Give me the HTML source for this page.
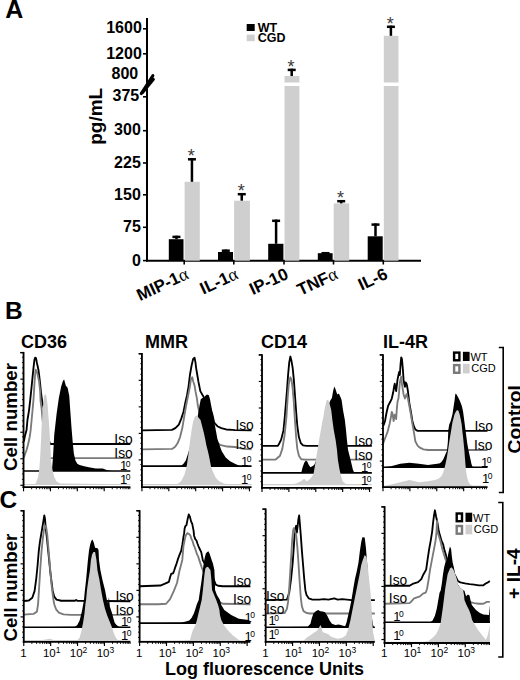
<!DOCTYPE html>
<html><head><meta charset="utf-8"><style>
html,body{margin:0;padding:0;background:#fff;width:520px;height:680px;overflow:hidden}
svg{display:block}
</style></head><body>
<svg width="520" height="680" viewBox="0 0 520 680">
<rect width="520" height="680" fill="#fff"/>
<text x="5.2" y="18.3" font-size="25" font-weight="bold" font-family="Liberation Sans, sans-serif">A</text>
<line x1="147" y1="18" x2="147" y2="261.5" stroke="#000" stroke-width="2"/>
<line x1="146" y1="260.7" x2="421" y2="260.7" stroke="#000" stroke-width="2"/>
<line x1="143" y1="28.8" x2="147" y2="28.8" stroke="#000" stroke-width="1.6"/>
<line x1="143" y1="53.8" x2="147" y2="53.8" stroke="#000" stroke-width="1.6"/>
<line x1="143" y1="96.8" x2="147" y2="96.8" stroke="#000" stroke-width="1.6"/>
<line x1="143" y1="130.7" x2="147" y2="130.7" stroke="#000" stroke-width="1.6"/>
<line x1="143" y1="163" x2="147" y2="163" stroke="#000" stroke-width="1.6"/>
<line x1="143" y1="194.8" x2="147" y2="194.8" stroke="#000" stroke-width="1.6"/>
<line x1="143" y1="227.3" x2="147" y2="227.3" stroke="#000" stroke-width="1.6"/>
<line x1="143" y1="260.6" x2="147" y2="260.6" stroke="#000" stroke-width="1.6"/>
<text x="141.8" y="32.8" font-size="16" font-weight="bold" text-anchor="end" font-family="Liberation Sans, sans-serif">1600</text>
<text x="141.8" y="58.6" font-size="16" font-weight="bold" text-anchor="end" font-family="Liberation Sans, sans-serif">1200</text>
<text x="138.2" y="78.9" font-size="16" font-weight="bold" text-anchor="end" font-family="Liberation Sans, sans-serif">800</text>
<text x="139.2" y="100.8" font-size="16" font-weight="bold" text-anchor="end" font-family="Liberation Sans, sans-serif">375</text>
<text x="140.8" y="135" font-size="16" font-weight="bold" text-anchor="end" font-family="Liberation Sans, sans-serif">300</text>
<text x="140.8" y="167.8" font-size="16" font-weight="bold" text-anchor="end" font-family="Liberation Sans, sans-serif">225</text>
<text x="140.8" y="199.5" font-size="16" font-weight="bold" text-anchor="end" font-family="Liberation Sans, sans-serif">150</text>
<text x="140.8" y="232.2" font-size="16" font-weight="bold" text-anchor="end" font-family="Liberation Sans, sans-serif">75</text>
<text x="140.8" y="266" font-size="16" font-weight="bold" text-anchor="end" font-family="Liberation Sans, sans-serif">0</text>
<path d="M141.2,93.6 L152.9,75.6 M142.6,92.6 L153.4,79.4" stroke="#000" stroke-width="3" stroke-linecap="round" fill="none"/>
<text transform="translate(102.3,144.8) rotate(-90)" font-size="19" font-weight="bold" font-family="Liberation Sans, sans-serif">pg/mL</text>
<rect x="246.7" y="24" width="8" height="7" fill="#000"/>
<rect x="246.7" y="34.6" width="8" height="6.6" fill="#cfcfcf"/>
<text x="257.8" y="31.5" font-size="12.5" font-weight="bold" font-family="Liberation Sans, sans-serif">WT</text>
<text x="257.8" y="42.2" font-size="12.5" font-weight="bold" font-family="Liberation Sans, sans-serif">CGD</text>
<rect x="168.8" y="239.2" width="14.699999999999983" height="21.5" fill="#000"/>
<line x1="176.45" y1="239.2" x2="176.45" y2="235.7" stroke="#000" stroke-width="2.5"/>
<line x1="172.45" y1="236.89999999999998" x2="180.45" y2="236.89999999999998" stroke="#000" stroke-width="2.5"/>
<rect x="218" y="252" width="14.999999999999995" height="8.699999999999989" fill="#000"/>
<line x1="225.8" y1="252" x2="225.8" y2="249.5" stroke="#000" stroke-width="2.5"/>
<line x1="221.8" y1="250.7" x2="229.8" y2="250.7" stroke="#000" stroke-width="2.5"/>
<rect x="268.2" y="243.8" width="15.200000000000012" height="16.899999999999977" fill="#000"/>
<line x1="276.1" y1="243.8" x2="276.1" y2="219.6" stroke="#000" stroke-width="2.5"/>
<line x1="272.1" y1="220.79999999999998" x2="280.1" y2="220.79999999999998" stroke="#000" stroke-width="2.5"/>
<rect x="317.8" y="253.2" width="14.799999999999978" height="7.5" fill="#000"/>
<line x1="325.5" y1="253.2" x2="325.5" y2="252" stroke="#000" stroke-width="2.5"/>
<line x1="321.5" y1="253.2" x2="329.5" y2="253.2" stroke="#000" stroke-width="2.5"/>
<rect x="367.7" y="236.3" width="15.000000000000023" height="24.399999999999977" fill="#000"/>
<line x1="375.5" y1="236.3" x2="375.5" y2="223.4" stroke="#000" stroke-width="2.5"/>
<line x1="371.5" y1="224.6" x2="379.5" y2="224.6" stroke="#000" stroke-width="2.5"/>
<rect x="184.6" y="181.8" width="15.200000000000017" height="78.89999999999998" fill="#cfcfcf"/>
<line x1="191.95" y1="181.8" x2="191.95" y2="158.1" stroke="#000" stroke-width="2.5"/>
<line x1="187.95" y1="159.29999999999998" x2="195.95" y2="159.29999999999998" stroke="#000" stroke-width="2.5"/>
<text x="191.35" y="162.4" font-size="18" text-anchor="middle" fill="#3a3a3a" font-family="Liberation Sans, sans-serif">*</text>
<rect x="234.1" y="200.7" width="15.800000000000011" height="60.0" fill="#cfcfcf"/>
<line x1="241.75" y1="200.7" x2="241.75" y2="193" stroke="#000" stroke-width="2.5"/>
<line x1="237.75" y1="194.2" x2="245.75" y2="194.2" stroke="#000" stroke-width="2.5"/>
<text x="241.15" y="197.3" font-size="18" text-anchor="middle" fill="#3a3a3a" font-family="Liberation Sans, sans-serif">*</text>
<rect x="284.5" y="76" width="14.899999999999977" height="184.7" fill="#cfcfcf"/>
<line x1="291.7" y1="76" x2="291.7" y2="68.7" stroke="#000" stroke-width="2.5"/>
<line x1="287.7" y1="69.9" x2="295.7" y2="69.9" stroke="#000" stroke-width="2.5"/>
<text x="291.09999999999997" y="73.0" font-size="18" text-anchor="middle" fill="#3a3a3a" font-family="Liberation Sans, sans-serif">*</text>
<rect x="333.7" y="203.4" width="15.5" height="57.29999999999998" fill="#cfcfcf"/>
<line x1="341.2" y1="203.4" x2="341.2" y2="200" stroke="#000" stroke-width="2.5"/>
<line x1="337.2" y1="201.2" x2="345.2" y2="201.2" stroke="#000" stroke-width="2.5"/>
<text x="340.59999999999997" y="204.3" font-size="18" text-anchor="middle" fill="#3a3a3a" font-family="Liberation Sans, sans-serif">*</text>
<rect x="383.8" y="35.8" width="14.699999999999989" height="224.89999999999998" fill="#cfcfcf"/>
<line x1="390.9" y1="35.8" x2="390.9" y2="25.6" stroke="#000" stroke-width="2.5"/>
<line x1="386.9" y1="26.8" x2="394.9" y2="26.8" stroke="#000" stroke-width="2.5"/>
<text x="390.29999999999995" y="29.900000000000002" font-size="18" text-anchor="middle" fill="#3a3a3a" font-family="Liberation Sans, sans-serif">*</text>
<rect x="280" y="82.5" width="122" height="3.5" fill="#fff"/>
<line x1="184.2" y1="260" x2="184.2" y2="264.5" stroke="#000" stroke-width="1.6"/>
<line x1="233.8" y1="260" x2="233.8" y2="264.5" stroke="#000" stroke-width="1.6"/>
<line x1="284" y1="260" x2="284" y2="264.5" stroke="#000" stroke-width="1.6"/>
<line x1="333.5" y1="260" x2="333.5" y2="264.5" stroke="#000" stroke-width="1.6"/>
<line x1="383.3" y1="260" x2="383.3" y2="264.5" stroke="#000" stroke-width="1.6"/>
<text transform="translate(189.7,278) rotate(-25)" font-size="17" font-weight="bold" text-anchor="end" font-family="Liberation Sans, sans-serif">MIP-1<tspan font-weight="normal" font-size="18" font-family="Liberation Serif, serif">α</tspan></text>
<text transform="translate(239.3,278) rotate(-25)" font-size="17" font-weight="bold" text-anchor="end" font-family="Liberation Sans, sans-serif">IL-1<tspan font-weight="normal" font-size="18" font-family="Liberation Serif, serif">α</tspan></text>
<text transform="translate(289.5,278) rotate(-25)" font-size="17" font-weight="bold" text-anchor="end" font-family="Liberation Sans, sans-serif">IP-10</text>
<text transform="translate(339.0,278) rotate(-25)" font-size="17" font-weight="bold" text-anchor="end" font-family="Liberation Sans, sans-serif">TNF<tspan font-weight="normal" font-size="18" font-family="Liberation Serif, serif">α</tspan></text>
<text transform="translate(388.8,278) rotate(-25)" font-size="17" font-weight="bold" text-anchor="end" font-family="Liberation Sans, sans-serif">IL-6</text>
<g transform="translate(15,345) scale(0.230769)">
<polyline points="37,416 39,416 43,394 50,368 54,325 61,282 66,238 71,190 76,140 80,100 84,65 87,55 91,57 95,78 98,91 102,110 105,134 109,169 113,209 118,245 122,263 126,280 134,330 143,400 152,429 500,429" fill="none" stroke="#000" stroke-width="8" stroke-linejoin="round"/>
<polyline points="37,487 39,485 43,474 50,455 56,433 61,412 65,390 68,368 72,325 76,282 80,238 84,173 87,130 89,107 93,110 97,124 104,156 109,200 111,245 115,272 120,330 130,420 140,480 150,490 500,490" fill="none" stroke="#7a7a7a" stroke-width="8" stroke-linejoin="round"/>
<polygon points="37,546 37,546 160,546 165,480 170,390 180,300 190,230 200,180 208,155 213,150 220,175 228,185 235,220 240,290 245,360 250,420 255,470 262,500 270,515 280,520 300,525 320,530 350,535 380,535 400,543 420,546 500,546 500,546" fill="#000"/>
<line x1="37" y1="546" x2="500" y2="546" stroke="#000" stroke-width="7"/>
<polygon points="37,604.5 37,604 80,604 90,600 100,572 105,540 108,503 112,430 115,362 119,300 122,257 126,222 131,211 136,222 141,257 145,310 149,362 153,430 156,503 162,540 170,572 180,592 195,600 300,601 400,602 500,603 500,604.5" fill="#cecece"/>
<line x1="37" y1="604.5" x2="500" y2="604.5" stroke="#cecece" stroke-width="5"/>
<line x1="37" y1="30" x2="37" y2="620" stroke="#000" stroke-width="8"/>
<line x1="23" y1="33" x2="37" y2="33" stroke="#000" stroke-width="6"/>
<line x1="33" y1="616" x2="500" y2="616" stroke="#000" stroke-width="8"/>
<line x1="23" y1="33" x2="37" y2="33" stroke="#000" stroke-width="5"/>
<line x1="30" y1="53.0" x2="37" y2="53.0" stroke="#000" stroke-width="4"/>
<line x1="30" y1="76.0" x2="37" y2="76.0" stroke="#000" stroke-width="4"/>
<line x1="30" y1="99.0" x2="37" y2="99.0" stroke="#000" stroke-width="4"/>
<line x1="30" y1="122.0" x2="37" y2="122.0" stroke="#000" stroke-width="4"/>
<line x1="23" y1="148" x2="37" y2="148" stroke="#000" stroke-width="5"/>
<line x1="30" y1="168.0" x2="37" y2="168.0" stroke="#000" stroke-width="4"/>
<line x1="30" y1="191.0" x2="37" y2="191.0" stroke="#000" stroke-width="4"/>
<line x1="30" y1="214.0" x2="37" y2="214.0" stroke="#000" stroke-width="4"/>
<line x1="30" y1="237.0" x2="37" y2="237.0" stroke="#000" stroke-width="4"/>
<line x1="23" y1="263" x2="37" y2="263" stroke="#000" stroke-width="5"/>
<line x1="30" y1="283.0" x2="37" y2="283.0" stroke="#000" stroke-width="4"/>
<line x1="30" y1="306.0" x2="37" y2="306.0" stroke="#000" stroke-width="4"/>
<line x1="30" y1="329.0" x2="37" y2="329.0" stroke="#000" stroke-width="4"/>
<line x1="30" y1="352.0" x2="37" y2="352.0" stroke="#000" stroke-width="4"/>
<line x1="23" y1="378" x2="37" y2="378" stroke="#000" stroke-width="5"/>
<line x1="30" y1="398.0" x2="37" y2="398.0" stroke="#000" stroke-width="4"/>
<line x1="30" y1="421.0" x2="37" y2="421.0" stroke="#000" stroke-width="4"/>
<line x1="30" y1="444.0" x2="37" y2="444.0" stroke="#000" stroke-width="4"/>
<line x1="30" y1="467.0" x2="37" y2="467.0" stroke="#000" stroke-width="4"/>
<line x1="23" y1="493" x2="37" y2="493" stroke="#000" stroke-width="5"/>
<line x1="30" y1="513.0" x2="37" y2="513.0" stroke="#000" stroke-width="4"/>
<line x1="30" y1="536.0" x2="37" y2="536.0" stroke="#000" stroke-width="4"/>
<line x1="30" y1="559.0" x2="37" y2="559.0" stroke="#000" stroke-width="4"/>
<line x1="30" y1="582.0" x2="37" y2="582.0" stroke="#000" stroke-width="4"/>
<line x1="23" y1="608" x2="37" y2="608" stroke="#000" stroke-width="5"/>
<line x1="37.0" y1="616" x2="37.0" y2="634" stroke="#000" stroke-width="5"/>
<line x1="72.0699944948538" y1="616" x2="72.0699944948538" y2="625" stroke="#000" stroke-width="4"/>
<line x1="92.58462617484068" y1="616" x2="92.58462617484068" y2="625" stroke="#000" stroke-width="4"/>
<line x1="107.13998898970762" y1="616" x2="107.13998898970762" y2="625" stroke="#000" stroke-width="4"/>
<line x1="118.4300055051462" y1="616" x2="118.4300055051462" y2="625" stroke="#000" stroke-width="4"/>
<line x1="127.65462066969448" y1="616" x2="127.65462066969448" y2="625" stroke="#000" stroke-width="4"/>
<line x1="135.4539216616609" y1="616" x2="135.4539216616609" y2="625" stroke="#000" stroke-width="4"/>
<line x1="142.2099834845614" y1="616" x2="142.2099834845614" y2="625" stroke="#000" stroke-width="4"/>
<line x1="148.16925234968136" y1="616" x2="148.16925234968136" y2="625" stroke="#000" stroke-width="4"/>
<line x1="153.5" y1="616" x2="153.5" y2="634" stroke="#000" stroke-width="5"/>
<line x1="188.5699944948538" y1="616" x2="188.5699944948538" y2="625" stroke="#000" stroke-width="4"/>
<line x1="209.08462617484068" y1="616" x2="209.08462617484068" y2="625" stroke="#000" stroke-width="4"/>
<line x1="223.63998898970763" y1="616" x2="223.63998898970763" y2="625" stroke="#000" stroke-width="4"/>
<line x1="234.9300055051462" y1="616" x2="234.9300055051462" y2="625" stroke="#000" stroke-width="4"/>
<line x1="244.15462066969448" y1="616" x2="244.15462066969448" y2="625" stroke="#000" stroke-width="4"/>
<line x1="251.95392166166093" y1="616" x2="251.95392166166093" y2="625" stroke="#000" stroke-width="4"/>
<line x1="258.70998348456146" y1="616" x2="258.70998348456146" y2="625" stroke="#000" stroke-width="4"/>
<line x1="264.6692523496813" y1="616" x2="264.6692523496813" y2="625" stroke="#000" stroke-width="4"/>
<line x1="270.0" y1="616" x2="270.0" y2="634" stroke="#000" stroke-width="5"/>
<line x1="305.0699944948538" y1="616" x2="305.0699944948538" y2="625" stroke="#000" stroke-width="4"/>
<line x1="325.5846261748407" y1="616" x2="325.5846261748407" y2="625" stroke="#000" stroke-width="4"/>
<line x1="340.1399889897076" y1="616" x2="340.1399889897076" y2="625" stroke="#000" stroke-width="4"/>
<line x1="351.4300055051462" y1="616" x2="351.4300055051462" y2="625" stroke="#000" stroke-width="4"/>
<line x1="360.6546206696945" y1="616" x2="360.6546206696945" y2="625" stroke="#000" stroke-width="4"/>
<line x1="368.45392166166096" y1="616" x2="368.45392166166096" y2="625" stroke="#000" stroke-width="4"/>
<line x1="375.20998348456146" y1="616" x2="375.20998348456146" y2="625" stroke="#000" stroke-width="4"/>
<line x1="381.16925234968136" y1="616" x2="381.16925234968136" y2="625" stroke="#000" stroke-width="4"/>
<line x1="386.5" y1="616" x2="386.5" y2="634" stroke="#000" stroke-width="5"/>
<line x1="421.5699944948538" y1="616" x2="421.5699944948538" y2="625" stroke="#000" stroke-width="4"/>
<line x1="442.0846261748407" y1="616" x2="442.0846261748407" y2="625" stroke="#000" stroke-width="4"/>
<line x1="456.6399889897076" y1="616" x2="456.6399889897076" y2="625" stroke="#000" stroke-width="4"/>
<line x1="467.9300055051462" y1="616" x2="467.9300055051462" y2="625" stroke="#000" stroke-width="4"/>
<line x1="477.1546206696945" y1="616" x2="477.1546206696945" y2="625" stroke="#000" stroke-width="4"/>
<line x1="484.95392166166096" y1="616" x2="484.95392166166096" y2="625" stroke="#000" stroke-width="4"/>
<line x1="491.70998348456146" y1="616" x2="491.70998348456146" y2="625" stroke="#000" stroke-width="4"/>
<line x1="497.66925234968136" y1="616" x2="497.66925234968136" y2="625" stroke="#000" stroke-width="4"/>
</g>
<text x="114.3" y="444.1" font-size="13.8" font-family="Liberation Sans, sans-serif">Iso</text>
<text x="114.3" y="458.2" font-size="13.8" font-family="Liberation Sans, sans-serif">Iso</text>
<text x="120" y="470.3" font-size="13" font-family="Liberation Sans, sans-serif">1<tspan font-size="8.5" dx="-1.4" dy="-3.6">0</tspan></text>
<text x="120" y="483.8" font-size="13" font-family="Liberation Sans, sans-serif">1<tspan font-size="8.5" dx="-1.4" dy="-3.6">0</tspan></text>
<g transform="translate(135,345) scale(0.230769)">
<polyline points="30,370 160,368 175,360 190,345 200,320 210,290 218,250 225,220 232,180 238,130 245,90 252,60 258,55 262,75 265,100 270,130 275,160 280,185 283,200 300,230 320,260 335,300 343,336 347,341 357,352 374,360 395,366 422,368 433,369 505,370" fill="none" stroke="#000" stroke-width="8" stroke-linejoin="round"/>
<polyline points="30,452 160,450 165,448 175,440 185,425 195,400 205,360 215,300 222,260 230,220 238,180 242,150 248,140 253,160 258,175 262,200 268,230 272,260 278,290 300,340 330,380 355,420 368,433 400,440 433,442 470,450 505,452" fill="none" stroke="#7a7a7a" stroke-width="8" stroke-linejoin="round"/>
<polygon points="30,525 30,525 200,523 210,515 220,500 230,470 250,400 270,320 280,260 285,235 292,230 300,228 305,220 312,215 320,218 325,235 330,262 334,282 338,305 341,325 347,352 352,379 357,406 366,433 376,460 393,487 412,504 433,515 455,524 470,525 505,525 505,525" fill="#000"/>
<line x1="30" y1="525" x2="505" y2="525" stroke="#000" stroke-width="7"/>
<polygon points="30,605 30,605 180,605 200,590 215,560 225,520 232,470 238,420 245,370 252,330 260,310 268,305 276,315 284,325 291,352 298,379 304,406 309,433 316,460 322,487 330,530 340,555 350,575 365,590 385,600 400,603 505,605 505,605" fill="#cecece"/>
<line x1="30" y1="605" x2="505" y2="605" stroke="#cecece" stroke-width="5"/>
<line x1="30" y1="35" x2="30" y2="620" stroke="#000" stroke-width="8"/>
<line x1="16" y1="38" x2="30" y2="38" stroke="#000" stroke-width="6"/>
<line x1="26" y1="616" x2="505" y2="616" stroke="#000" stroke-width="8"/>
<line x1="16" y1="38" x2="30" y2="38" stroke="#000" stroke-width="5"/>
<line x1="23" y1="58.0" x2="30" y2="58.0" stroke="#000" stroke-width="4"/>
<line x1="23" y1="81.0" x2="30" y2="81.0" stroke="#000" stroke-width="4"/>
<line x1="23" y1="104.0" x2="30" y2="104.0" stroke="#000" stroke-width="4"/>
<line x1="23" y1="127.0" x2="30" y2="127.0" stroke="#000" stroke-width="4"/>
<line x1="16" y1="153" x2="30" y2="153" stroke="#000" stroke-width="5"/>
<line x1="23" y1="173.0" x2="30" y2="173.0" stroke="#000" stroke-width="4"/>
<line x1="23" y1="196.0" x2="30" y2="196.0" stroke="#000" stroke-width="4"/>
<line x1="23" y1="219.0" x2="30" y2="219.0" stroke="#000" stroke-width="4"/>
<line x1="23" y1="242.0" x2="30" y2="242.0" stroke="#000" stroke-width="4"/>
<line x1="16" y1="268" x2="30" y2="268" stroke="#000" stroke-width="5"/>
<line x1="23" y1="288.0" x2="30" y2="288.0" stroke="#000" stroke-width="4"/>
<line x1="23" y1="311.0" x2="30" y2="311.0" stroke="#000" stroke-width="4"/>
<line x1="23" y1="334.0" x2="30" y2="334.0" stroke="#000" stroke-width="4"/>
<line x1="23" y1="357.0" x2="30" y2="357.0" stroke="#000" stroke-width="4"/>
<line x1="16" y1="383" x2="30" y2="383" stroke="#000" stroke-width="5"/>
<line x1="23" y1="403.0" x2="30" y2="403.0" stroke="#000" stroke-width="4"/>
<line x1="23" y1="426.0" x2="30" y2="426.0" stroke="#000" stroke-width="4"/>
<line x1="23" y1="449.0" x2="30" y2="449.0" stroke="#000" stroke-width="4"/>
<line x1="23" y1="472.0" x2="30" y2="472.0" stroke="#000" stroke-width="4"/>
<line x1="16" y1="498" x2="30" y2="498" stroke="#000" stroke-width="5"/>
<line x1="23" y1="518.0" x2="30" y2="518.0" stroke="#000" stroke-width="4"/>
<line x1="23" y1="541.0" x2="30" y2="541.0" stroke="#000" stroke-width="4"/>
<line x1="23" y1="564.0" x2="30" y2="564.0" stroke="#000" stroke-width="4"/>
<line x1="23" y1="587.0" x2="30" y2="587.0" stroke="#000" stroke-width="4"/>
<line x1="30.0" y1="616" x2="30.0" y2="634" stroke="#000" stroke-width="5"/>
<line x1="65.0699944948538" y1="616" x2="65.0699944948538" y2="625" stroke="#000" stroke-width="4"/>
<line x1="85.58462617484068" y1="616" x2="85.58462617484068" y2="625" stroke="#000" stroke-width="4"/>
<line x1="100.13998898970762" y1="616" x2="100.13998898970762" y2="625" stroke="#000" stroke-width="4"/>
<line x1="111.4300055051462" y1="616" x2="111.4300055051462" y2="625" stroke="#000" stroke-width="4"/>
<line x1="120.65462066969448" y1="616" x2="120.65462066969448" y2="625" stroke="#000" stroke-width="4"/>
<line x1="128.4539216616609" y1="616" x2="128.4539216616609" y2="625" stroke="#000" stroke-width="4"/>
<line x1="135.2099834845614" y1="616" x2="135.2099834845614" y2="625" stroke="#000" stroke-width="4"/>
<line x1="141.16925234968136" y1="616" x2="141.16925234968136" y2="625" stroke="#000" stroke-width="4"/>
<line x1="146.5" y1="616" x2="146.5" y2="634" stroke="#000" stroke-width="5"/>
<line x1="181.5699944948538" y1="616" x2="181.5699944948538" y2="625" stroke="#000" stroke-width="4"/>
<line x1="202.08462617484068" y1="616" x2="202.08462617484068" y2="625" stroke="#000" stroke-width="4"/>
<line x1="216.63998898970763" y1="616" x2="216.63998898970763" y2="625" stroke="#000" stroke-width="4"/>
<line x1="227.9300055051462" y1="616" x2="227.9300055051462" y2="625" stroke="#000" stroke-width="4"/>
<line x1="237.15462066969448" y1="616" x2="237.15462066969448" y2="625" stroke="#000" stroke-width="4"/>
<line x1="244.95392166166093" y1="616" x2="244.95392166166093" y2="625" stroke="#000" stroke-width="4"/>
<line x1="251.70998348456143" y1="616" x2="251.70998348456143" y2="625" stroke="#000" stroke-width="4"/>
<line x1="257.6692523496813" y1="616" x2="257.6692523496813" y2="625" stroke="#000" stroke-width="4"/>
<line x1="263.0" y1="616" x2="263.0" y2="634" stroke="#000" stroke-width="5"/>
<line x1="298.0699944948538" y1="616" x2="298.0699944948538" y2="625" stroke="#000" stroke-width="4"/>
<line x1="318.5846261748407" y1="616" x2="318.5846261748407" y2="625" stroke="#000" stroke-width="4"/>
<line x1="333.1399889897076" y1="616" x2="333.1399889897076" y2="625" stroke="#000" stroke-width="4"/>
<line x1="344.4300055051462" y1="616" x2="344.4300055051462" y2="625" stroke="#000" stroke-width="4"/>
<line x1="353.6546206696945" y1="616" x2="353.6546206696945" y2="625" stroke="#000" stroke-width="4"/>
<line x1="361.45392166166096" y1="616" x2="361.45392166166096" y2="625" stroke="#000" stroke-width="4"/>
<line x1="368.20998348456146" y1="616" x2="368.20998348456146" y2="625" stroke="#000" stroke-width="4"/>
<line x1="374.16925234968136" y1="616" x2="374.16925234968136" y2="625" stroke="#000" stroke-width="4"/>
<line x1="379.5" y1="616" x2="379.5" y2="634" stroke="#000" stroke-width="5"/>
<line x1="414.5699944948538" y1="616" x2="414.5699944948538" y2="625" stroke="#000" stroke-width="4"/>
<line x1="435.0846261748407" y1="616" x2="435.0846261748407" y2="625" stroke="#000" stroke-width="4"/>
<line x1="449.6399889897076" y1="616" x2="449.6399889897076" y2="625" stroke="#000" stroke-width="4"/>
<line x1="460.9300055051462" y1="616" x2="460.9300055051462" y2="625" stroke="#000" stroke-width="4"/>
<line x1="470.1546206696945" y1="616" x2="470.1546206696945" y2="625" stroke="#000" stroke-width="4"/>
<line x1="477.95392166166096" y1="616" x2="477.95392166166096" y2="625" stroke="#000" stroke-width="4"/>
<line x1="484.70998348456146" y1="616" x2="484.70998348456146" y2="625" stroke="#000" stroke-width="4"/>
<line x1="490.66925234968136" y1="616" x2="490.66925234968136" y2="625" stroke="#000" stroke-width="4"/>
<line x1="496.0" y1="616" x2="496.0" y2="634" stroke="#000" stroke-width="5"/>
</g>
<text x="235.4" y="430.4" font-size="13.8" font-family="Liberation Sans, sans-serif">Iso</text>
<text x="235.4" y="449.3" font-size="13.8" font-family="Liberation Sans, sans-serif">Iso</text>
<text x="241" y="465.8" font-size="13" font-family="Liberation Sans, sans-serif">1<tspan font-size="8.5" dx="-1.4" dy="-3.6">0</tspan></text>
<text x="241" y="483.5" font-size="13" font-family="Liberation Sans, sans-serif">1<tspan font-size="8.5" dx="-1.4" dy="-3.6">0</tspan></text>
<g transform="translate(250,345) scale(0.230769)">
<polyline points="52,437 120,437 125,430 135,410 145,370 150,320 155,260 160,200 165,130 170,75 175,50 180,70 185,100 190,150 195,220 200,290 205,350 212,400 220,425 230,435 245,437 528,437" fill="none" stroke="#000" stroke-width="8" stroke-linejoin="round"/>
<polyline points="52,497 110,497 115,493 130,480 140,450 150,390 158,310 163,230 168,170 175,140 180,150 185,190 190,250 195,330 200,400 205,450 212,480 222,495 240,497 528,497" fill="none" stroke="#7a7a7a" stroke-width="8" stroke-linejoin="round"/>
<polygon points="52,554 52,554 222,554 228,530 235,510 242,500 248,505 255,520 262,530 270,525 278,520 300,470 320,400 340,260 348,240 355,230 360,200 365,180 370,190 378,215 385,210 392,225 397,238 403,282 411,325 416,368 420,412 425,455 436,498 446,541 452,554 528,554 528,554" fill="#000"/>
<line x1="52" y1="554" x2="528" y2="554" stroke="#000" stroke-width="7"/>
<polygon points="52,605 52,605 160,605 180,603 200,600 220,590 235,580 245,590 255,585 265,575 275,560 282,520 290,470 298,420 305,380 312,340 318,310 325,270 332,240 338,236 344,250 349,270 352,282 357,325 363,368 371,412 377,455 381,498 388,540 395,570 402,590 412,600 425,604 528,605 528,605" fill="#cecece"/>
<line x1="52" y1="605" x2="528" y2="605" stroke="#cecece" stroke-width="5"/>
<line x1="52" y1="40" x2="52" y2="623" stroke="#000" stroke-width="8"/>
<line x1="38" y1="43" x2="52" y2="43" stroke="#000" stroke-width="6"/>
<line x1="48" y1="619" x2="528" y2="619" stroke="#000" stroke-width="8"/>
<line x1="38" y1="43" x2="52" y2="43" stroke="#000" stroke-width="5"/>
<line x1="45" y1="63.0" x2="52" y2="63.0" stroke="#000" stroke-width="4"/>
<line x1="45" y1="86.0" x2="52" y2="86.0" stroke="#000" stroke-width="4"/>
<line x1="45" y1="109.0" x2="52" y2="109.0" stroke="#000" stroke-width="4"/>
<line x1="45" y1="132.0" x2="52" y2="132.0" stroke="#000" stroke-width="4"/>
<line x1="38" y1="158" x2="52" y2="158" stroke="#000" stroke-width="5"/>
<line x1="45" y1="178.0" x2="52" y2="178.0" stroke="#000" stroke-width="4"/>
<line x1="45" y1="201.0" x2="52" y2="201.0" stroke="#000" stroke-width="4"/>
<line x1="45" y1="224.0" x2="52" y2="224.0" stroke="#000" stroke-width="4"/>
<line x1="45" y1="247.0" x2="52" y2="247.0" stroke="#000" stroke-width="4"/>
<line x1="38" y1="273" x2="52" y2="273" stroke="#000" stroke-width="5"/>
<line x1="45" y1="293.0" x2="52" y2="293.0" stroke="#000" stroke-width="4"/>
<line x1="45" y1="316.0" x2="52" y2="316.0" stroke="#000" stroke-width="4"/>
<line x1="45" y1="339.0" x2="52" y2="339.0" stroke="#000" stroke-width="4"/>
<line x1="45" y1="362.0" x2="52" y2="362.0" stroke="#000" stroke-width="4"/>
<line x1="38" y1="388" x2="52" y2="388" stroke="#000" stroke-width="5"/>
<line x1="45" y1="408.0" x2="52" y2="408.0" stroke="#000" stroke-width="4"/>
<line x1="45" y1="431.0" x2="52" y2="431.0" stroke="#000" stroke-width="4"/>
<line x1="45" y1="454.0" x2="52" y2="454.0" stroke="#000" stroke-width="4"/>
<line x1="45" y1="477.0" x2="52" y2="477.0" stroke="#000" stroke-width="4"/>
<line x1="38" y1="503" x2="52" y2="503" stroke="#000" stroke-width="5"/>
<line x1="45" y1="523.0" x2="52" y2="523.0" stroke="#000" stroke-width="4"/>
<line x1="45" y1="546.0" x2="52" y2="546.0" stroke="#000" stroke-width="4"/>
<line x1="45" y1="569.0" x2="52" y2="569.0" stroke="#000" stroke-width="4"/>
<line x1="45" y1="592.0" x2="52" y2="592.0" stroke="#000" stroke-width="4"/>
<line x1="52.0" y1="619" x2="52.0" y2="637" stroke="#000" stroke-width="5"/>
<line x1="87.0699944948538" y1="619" x2="87.0699944948538" y2="628" stroke="#000" stroke-width="4"/>
<line x1="107.58462617484068" y1="619" x2="107.58462617484068" y2="628" stroke="#000" stroke-width="4"/>
<line x1="122.13998898970762" y1="619" x2="122.13998898970762" y2="628" stroke="#000" stroke-width="4"/>
<line x1="133.4300055051462" y1="619" x2="133.4300055051462" y2="628" stroke="#000" stroke-width="4"/>
<line x1="142.65462066969448" y1="619" x2="142.65462066969448" y2="628" stroke="#000" stroke-width="4"/>
<line x1="150.4539216616609" y1="619" x2="150.4539216616609" y2="628" stroke="#000" stroke-width="4"/>
<line x1="157.2099834845614" y1="619" x2="157.2099834845614" y2="628" stroke="#000" stroke-width="4"/>
<line x1="163.16925234968136" y1="619" x2="163.16925234968136" y2="628" stroke="#000" stroke-width="4"/>
<line x1="168.5" y1="619" x2="168.5" y2="637" stroke="#000" stroke-width="5"/>
<line x1="203.5699944948538" y1="619" x2="203.5699944948538" y2="628" stroke="#000" stroke-width="4"/>
<line x1="224.08462617484068" y1="619" x2="224.08462617484068" y2="628" stroke="#000" stroke-width="4"/>
<line x1="238.63998898970763" y1="619" x2="238.63998898970763" y2="628" stroke="#000" stroke-width="4"/>
<line x1="249.9300055051462" y1="619" x2="249.9300055051462" y2="628" stroke="#000" stroke-width="4"/>
<line x1="259.1546206696945" y1="619" x2="259.1546206696945" y2="628" stroke="#000" stroke-width="4"/>
<line x1="266.95392166166096" y1="619" x2="266.95392166166096" y2="628" stroke="#000" stroke-width="4"/>
<line x1="273.70998348456146" y1="619" x2="273.70998348456146" y2="628" stroke="#000" stroke-width="4"/>
<line x1="279.6692523496813" y1="619" x2="279.6692523496813" y2="628" stroke="#000" stroke-width="4"/>
<line x1="285.0" y1="619" x2="285.0" y2="637" stroke="#000" stroke-width="5"/>
<line x1="320.0699944948538" y1="619" x2="320.0699944948538" y2="628" stroke="#000" stroke-width="4"/>
<line x1="340.5846261748407" y1="619" x2="340.5846261748407" y2="628" stroke="#000" stroke-width="4"/>
<line x1="355.1399889897076" y1="619" x2="355.1399889897076" y2="628" stroke="#000" stroke-width="4"/>
<line x1="366.4300055051462" y1="619" x2="366.4300055051462" y2="628" stroke="#000" stroke-width="4"/>
<line x1="375.6546206696945" y1="619" x2="375.6546206696945" y2="628" stroke="#000" stroke-width="4"/>
<line x1="383.45392166166096" y1="619" x2="383.45392166166096" y2="628" stroke="#000" stroke-width="4"/>
<line x1="390.20998348456146" y1="619" x2="390.20998348456146" y2="628" stroke="#000" stroke-width="4"/>
<line x1="396.16925234968136" y1="619" x2="396.16925234968136" y2="628" stroke="#000" stroke-width="4"/>
<line x1="401.5" y1="619" x2="401.5" y2="637" stroke="#000" stroke-width="5"/>
<line x1="436.5699944948538" y1="619" x2="436.5699944948538" y2="628" stroke="#000" stroke-width="4"/>
<line x1="457.0846261748407" y1="619" x2="457.0846261748407" y2="628" stroke="#000" stroke-width="4"/>
<line x1="471.6399889897076" y1="619" x2="471.6399889897076" y2="628" stroke="#000" stroke-width="4"/>
<line x1="482.9300055051462" y1="619" x2="482.9300055051462" y2="628" stroke="#000" stroke-width="4"/>
<line x1="492.1546206696945" y1="619" x2="492.1546206696945" y2="628" stroke="#000" stroke-width="4"/>
<line x1="499.95392166166096" y1="619" x2="499.95392166166096" y2="628" stroke="#000" stroke-width="4"/>
<line x1="506.70998348456146" y1="619" x2="506.70998348456146" y2="628" stroke="#000" stroke-width="4"/>
<line x1="512.6692523496813" y1="619" x2="512.6692523496813" y2="628" stroke="#000" stroke-width="4"/>
<line x1="518.0" y1="619" x2="518.0" y2="637" stroke="#000" stroke-width="5"/>
</g>
<text x="354.3" y="445.9" font-size="13.8" font-family="Liberation Sans, sans-serif">Iso</text>
<text x="354.3" y="460" font-size="13.8" font-family="Liberation Sans, sans-serif">Iso</text>
<text x="361" y="472" font-size="13" font-family="Liberation Sans, sans-serif">1<tspan font-size="8.5" dx="-1.4" dy="-3.6">0</tspan></text>
<text x="361" y="485.3" font-size="13" font-family="Liberation Sans, sans-serif">1<tspan font-size="8.5" dx="-1.4" dy="-3.6">0</tspan></text>
<g transform="translate(368,345) scale(0.230769)">
<polyline points="65,347 68,347 74,328 81,290 87,264 97,245 103,232 109,206 113,181 116,168 119,187 122,200 125,175 128,149 132,130 135,117 138,130 141,85 144,54 147,60 151,104 154,149 157,168 160,181 163,162 167,168 170,181 173,200 176,226 179,251 186,290 192,328 199,353 205,366 215,372 518,372" fill="none" stroke="#000" stroke-width="8" stroke-linejoin="round"/>
<polyline points="65,429 74,404 84,379 94,340 100,309 103,290 106,296 111,330 116,302 122,321 125,276 128,245 132,232 135,200 138,162 141,149 144,137 147,168 154,213 160,232 167,213 173,232 179,264 186,302 192,340 199,379 205,417 215,436 225,445 240,452 260,455 518,455" fill="none" stroke="#7a7a7a" stroke-width="8" stroke-linejoin="round"/>
<polygon points="65,530 65,530 100,525 140,515 180,510 220,515 260,520 300,515 312,512 320,505 327,494 336,472 342,459 346,420 348,368 352,345 358,330 366,300 372,260 375,242 378,214 381,210 390,225 398,242 407,265 412,288 415,311 418,334 421,357 424,380 427,403 430,426 434,449 439,472 444,495 448,515 452,527 460,530 518,530 518,530" fill="#000"/>
<line x1="65" y1="530" x2="518" y2="530" stroke="#000" stroke-width="7"/>
<polygon points="65,612 65,612 100,605 140,595 180,585 220,595 260,590 290,585 305,580 315,572 323,560 330,540 336,515 342,485 347,455 352,420 357,390 362,360 366,335 370,320 375,300 381,288 386,282 392,285 397,300 402,322 406,345 409,375 412,400 415,430 418,460 420,490 423,525 426,555 430,575 436,595 443,605 452,610 518,611 518,612" fill="#cecece"/>
<line x1="65" y1="612" x2="518" y2="612" stroke="#cecece" stroke-width="5"/>
<line x1="65" y1="40" x2="65" y2="620" stroke="#000" stroke-width="8"/>
<line x1="51" y1="43" x2="65" y2="43" stroke="#000" stroke-width="6"/>
<line x1="61" y1="616" x2="518" y2="616" stroke="#000" stroke-width="8"/>
<line x1="51" y1="43" x2="65" y2="43" stroke="#000" stroke-width="5"/>
<line x1="58" y1="63.0" x2="65" y2="63.0" stroke="#000" stroke-width="4"/>
<line x1="58" y1="86.0" x2="65" y2="86.0" stroke="#000" stroke-width="4"/>
<line x1="58" y1="109.0" x2="65" y2="109.0" stroke="#000" stroke-width="4"/>
<line x1="58" y1="132.0" x2="65" y2="132.0" stroke="#000" stroke-width="4"/>
<line x1="51" y1="158" x2="65" y2="158" stroke="#000" stroke-width="5"/>
<line x1="58" y1="178.0" x2="65" y2="178.0" stroke="#000" stroke-width="4"/>
<line x1="58" y1="201.0" x2="65" y2="201.0" stroke="#000" stroke-width="4"/>
<line x1="58" y1="224.0" x2="65" y2="224.0" stroke="#000" stroke-width="4"/>
<line x1="58" y1="247.0" x2="65" y2="247.0" stroke="#000" stroke-width="4"/>
<line x1="51" y1="273" x2="65" y2="273" stroke="#000" stroke-width="5"/>
<line x1="58" y1="293.0" x2="65" y2="293.0" stroke="#000" stroke-width="4"/>
<line x1="58" y1="316.0" x2="65" y2="316.0" stroke="#000" stroke-width="4"/>
<line x1="58" y1="339.0" x2="65" y2="339.0" stroke="#000" stroke-width="4"/>
<line x1="58" y1="362.0" x2="65" y2="362.0" stroke="#000" stroke-width="4"/>
<line x1="51" y1="388" x2="65" y2="388" stroke="#000" stroke-width="5"/>
<line x1="58" y1="408.0" x2="65" y2="408.0" stroke="#000" stroke-width="4"/>
<line x1="58" y1="431.0" x2="65" y2="431.0" stroke="#000" stroke-width="4"/>
<line x1="58" y1="454.0" x2="65" y2="454.0" stroke="#000" stroke-width="4"/>
<line x1="58" y1="477.0" x2="65" y2="477.0" stroke="#000" stroke-width="4"/>
<line x1="51" y1="503" x2="65" y2="503" stroke="#000" stroke-width="5"/>
<line x1="58" y1="523.0" x2="65" y2="523.0" stroke="#000" stroke-width="4"/>
<line x1="58" y1="546.0" x2="65" y2="546.0" stroke="#000" stroke-width="4"/>
<line x1="58" y1="569.0" x2="65" y2="569.0" stroke="#000" stroke-width="4"/>
<line x1="58" y1="592.0" x2="65" y2="592.0" stroke="#000" stroke-width="4"/>
<line x1="65.0" y1="616" x2="65.0" y2="634" stroke="#000" stroke-width="5"/>
<line x1="100.0699944948538" y1="616" x2="100.0699944948538" y2="625" stroke="#000" stroke-width="4"/>
<line x1="120.58462617484068" y1="616" x2="120.58462617484068" y2="625" stroke="#000" stroke-width="4"/>
<line x1="135.1399889897076" y1="616" x2="135.1399889897076" y2="625" stroke="#000" stroke-width="4"/>
<line x1="146.4300055051462" y1="616" x2="146.4300055051462" y2="625" stroke="#000" stroke-width="4"/>
<line x1="155.65462066969448" y1="616" x2="155.65462066969448" y2="625" stroke="#000" stroke-width="4"/>
<line x1="163.4539216616609" y1="616" x2="163.4539216616609" y2="625" stroke="#000" stroke-width="4"/>
<line x1="170.2099834845614" y1="616" x2="170.2099834845614" y2="625" stroke="#000" stroke-width="4"/>
<line x1="176.16925234968136" y1="616" x2="176.16925234968136" y2="625" stroke="#000" stroke-width="4"/>
<line x1="181.5" y1="616" x2="181.5" y2="634" stroke="#000" stroke-width="5"/>
<line x1="216.5699944948538" y1="616" x2="216.5699944948538" y2="625" stroke="#000" stroke-width="4"/>
<line x1="237.08462617484068" y1="616" x2="237.08462617484068" y2="625" stroke="#000" stroke-width="4"/>
<line x1="251.63998898970763" y1="616" x2="251.63998898970763" y2="625" stroke="#000" stroke-width="4"/>
<line x1="262.9300055051462" y1="616" x2="262.9300055051462" y2="625" stroke="#000" stroke-width="4"/>
<line x1="272.1546206696945" y1="616" x2="272.1546206696945" y2="625" stroke="#000" stroke-width="4"/>
<line x1="279.95392166166096" y1="616" x2="279.95392166166096" y2="625" stroke="#000" stroke-width="4"/>
<line x1="286.70998348456146" y1="616" x2="286.70998348456146" y2="625" stroke="#000" stroke-width="4"/>
<line x1="292.6692523496813" y1="616" x2="292.6692523496813" y2="625" stroke="#000" stroke-width="4"/>
<line x1="298.0" y1="616" x2="298.0" y2="634" stroke="#000" stroke-width="5"/>
<line x1="333.0699944948538" y1="616" x2="333.0699944948538" y2="625" stroke="#000" stroke-width="4"/>
<line x1="353.5846261748407" y1="616" x2="353.5846261748407" y2="625" stroke="#000" stroke-width="4"/>
<line x1="368.1399889897076" y1="616" x2="368.1399889897076" y2="625" stroke="#000" stroke-width="4"/>
<line x1="379.4300055051462" y1="616" x2="379.4300055051462" y2="625" stroke="#000" stroke-width="4"/>
<line x1="388.6546206696945" y1="616" x2="388.6546206696945" y2="625" stroke="#000" stroke-width="4"/>
<line x1="396.45392166166096" y1="616" x2="396.45392166166096" y2="625" stroke="#000" stroke-width="4"/>
<line x1="403.20998348456146" y1="616" x2="403.20998348456146" y2="625" stroke="#000" stroke-width="4"/>
<line x1="409.16925234968136" y1="616" x2="409.16925234968136" y2="625" stroke="#000" stroke-width="4"/>
<line x1="414.5" y1="616" x2="414.5" y2="634" stroke="#000" stroke-width="5"/>
<line x1="449.5699944948538" y1="616" x2="449.5699944948538" y2="625" stroke="#000" stroke-width="4"/>
<line x1="470.0846261748407" y1="616" x2="470.0846261748407" y2="625" stroke="#000" stroke-width="4"/>
<line x1="484.6399889897076" y1="616" x2="484.6399889897076" y2="625" stroke="#000" stroke-width="4"/>
<line x1="495.9300055051462" y1="616" x2="495.9300055051462" y2="625" stroke="#000" stroke-width="4"/>
<line x1="505.1546206696945" y1="616" x2="505.1546206696945" y2="625" stroke="#000" stroke-width="4"/>
<line x1="512.953921661661" y1="616" x2="512.953921661661" y2="625" stroke="#000" stroke-width="4"/>
</g>
<text x="474.5" y="431.25" font-size="13.8" font-family="Liberation Sans, sans-serif">Iso</text>
<text x="474" y="450" font-size="13.8" font-family="Liberation Sans, sans-serif">Iso</text>
<text x="481" y="467" font-size="13" font-family="Liberation Sans, sans-serif">1<tspan font-size="8.5" dx="-1.4" dy="-3.6">0</tspan></text>
<text x="482" y="483" font-size="13" font-family="Liberation Sans, sans-serif">1<tspan font-size="8.5" dx="-1.4" dy="-3.6">0</tspan></text>
<g transform="translate(15,505) scale(0.230769)">
<polyline points="38,416 60,414 75,402 85,372 92,320 98,260 103,200 108,160 113,130 118,100 123,70 127,45 130,60 133,100 138,140 143,190 148,240 153,290 158,330 163,370 170,397 180,410 200,415 260,415 265,411 270,415 500,417" fill="none" stroke="#000" stroke-width="8" stroke-linejoin="round"/>
<polyline points="38,475 80,472 95,462 100,430 105,350 110,270 115,200 120,150 125,110 130,90 135,95 140,130 145,190 150,250 155,310 160,360 165,400 170,430 178,452 190,466 210,474 240,476 500,476" fill="none" stroke="#7a7a7a" stroke-width="8" stroke-linejoin="round"/>
<polygon points="38,530 38,530 260,528 270,520 280,500 290,460 299,411 303,368 308,325 312,282 316,238 321,195 326,170 331,155 336,150 342,165 347,185 352,186 358,187 362,195 364,238 370,282 379,325 390,368 398,411 403,425 407,400 411,440 416,455 421,470 426,490 432,510 440,520 450,528 500,530 500,530" fill="#000"/>
<line x1="38" y1="530" x2="500" y2="530" stroke="#000" stroke-width="7"/>
<polygon points="38,588 38,588 120,585 150,580 180,588 268,588 280,575 288,545 295,510 301,470 305,430 308,412 312,368 318,325 325,282 329,238 334,215 340,204 347,204 353,238 357,282 366,325 373,368 381,412 390,450 400,480 410,505 420,530 430,560 440,580 450,588 500,588 500,588" fill="#cecece"/>
<line x1="38" y1="588" x2="500" y2="588" stroke="#cecece" stroke-width="5"/>
<line x1="38" y1="22" x2="38" y2="597" stroke="#000" stroke-width="8"/>
<line x1="24" y1="25" x2="38" y2="25" stroke="#000" stroke-width="6"/>
<line x1="34" y1="593" x2="500" y2="593" stroke="#000" stroke-width="8"/>
<line x1="24" y1="25" x2="38" y2="25" stroke="#000" stroke-width="5"/>
<line x1="31" y1="45.0" x2="38" y2="45.0" stroke="#000" stroke-width="4"/>
<line x1="31" y1="68.0" x2="38" y2="68.0" stroke="#000" stroke-width="4"/>
<line x1="31" y1="91.0" x2="38" y2="91.0" stroke="#000" stroke-width="4"/>
<line x1="31" y1="114.0" x2="38" y2="114.0" stroke="#000" stroke-width="4"/>
<line x1="24" y1="140" x2="38" y2="140" stroke="#000" stroke-width="5"/>
<line x1="31" y1="160.0" x2="38" y2="160.0" stroke="#000" stroke-width="4"/>
<line x1="31" y1="183.0" x2="38" y2="183.0" stroke="#000" stroke-width="4"/>
<line x1="31" y1="206.0" x2="38" y2="206.0" stroke="#000" stroke-width="4"/>
<line x1="31" y1="229.0" x2="38" y2="229.0" stroke="#000" stroke-width="4"/>
<line x1="24" y1="255" x2="38" y2="255" stroke="#000" stroke-width="5"/>
<line x1="31" y1="275.0" x2="38" y2="275.0" stroke="#000" stroke-width="4"/>
<line x1="31" y1="298.0" x2="38" y2="298.0" stroke="#000" stroke-width="4"/>
<line x1="31" y1="321.0" x2="38" y2="321.0" stroke="#000" stroke-width="4"/>
<line x1="31" y1="344.0" x2="38" y2="344.0" stroke="#000" stroke-width="4"/>
<line x1="24" y1="370" x2="38" y2="370" stroke="#000" stroke-width="5"/>
<line x1="31" y1="390.0" x2="38" y2="390.0" stroke="#000" stroke-width="4"/>
<line x1="31" y1="413.0" x2="38" y2="413.0" stroke="#000" stroke-width="4"/>
<line x1="31" y1="436.0" x2="38" y2="436.0" stroke="#000" stroke-width="4"/>
<line x1="31" y1="459.0" x2="38" y2="459.0" stroke="#000" stroke-width="4"/>
<line x1="24" y1="485" x2="38" y2="485" stroke="#000" stroke-width="5"/>
<line x1="31" y1="505.0" x2="38" y2="505.0" stroke="#000" stroke-width="4"/>
<line x1="31" y1="528.0" x2="38" y2="528.0" stroke="#000" stroke-width="4"/>
<line x1="31" y1="551.0" x2="38" y2="551.0" stroke="#000" stroke-width="4"/>
<line x1="31" y1="574.0" x2="38" y2="574.0" stroke="#000" stroke-width="4"/>
<line x1="38.0" y1="593" x2="38.0" y2="611" stroke="#000" stroke-width="5"/>
<line x1="73.0699944948538" y1="593" x2="73.0699944948538" y2="602" stroke="#000" stroke-width="4"/>
<line x1="93.58462617484068" y1="593" x2="93.58462617484068" y2="602" stroke="#000" stroke-width="4"/>
<line x1="108.13998898970762" y1="593" x2="108.13998898970762" y2="602" stroke="#000" stroke-width="4"/>
<line x1="119.4300055051462" y1="593" x2="119.4300055051462" y2="602" stroke="#000" stroke-width="4"/>
<line x1="128.65462066969448" y1="593" x2="128.65462066969448" y2="602" stroke="#000" stroke-width="4"/>
<line x1="136.4539216616609" y1="593" x2="136.4539216616609" y2="602" stroke="#000" stroke-width="4"/>
<line x1="143.2099834845614" y1="593" x2="143.2099834845614" y2="602" stroke="#000" stroke-width="4"/>
<line x1="149.16925234968136" y1="593" x2="149.16925234968136" y2="602" stroke="#000" stroke-width="4"/>
<line x1="154.5" y1="593" x2="154.5" y2="611" stroke="#000" stroke-width="5"/>
<line x1="189.5699944948538" y1="593" x2="189.5699944948538" y2="602" stroke="#000" stroke-width="4"/>
<line x1="210.08462617484068" y1="593" x2="210.08462617484068" y2="602" stroke="#000" stroke-width="4"/>
<line x1="224.63998898970763" y1="593" x2="224.63998898970763" y2="602" stroke="#000" stroke-width="4"/>
<line x1="235.9300055051462" y1="593" x2="235.9300055051462" y2="602" stroke="#000" stroke-width="4"/>
<line x1="245.15462066969448" y1="593" x2="245.15462066969448" y2="602" stroke="#000" stroke-width="4"/>
<line x1="252.95392166166093" y1="593" x2="252.95392166166093" y2="602" stroke="#000" stroke-width="4"/>
<line x1="259.70998348456146" y1="593" x2="259.70998348456146" y2="602" stroke="#000" stroke-width="4"/>
<line x1="265.6692523496813" y1="593" x2="265.6692523496813" y2="602" stroke="#000" stroke-width="4"/>
<line x1="271.0" y1="593" x2="271.0" y2="611" stroke="#000" stroke-width="5"/>
<line x1="306.0699944948538" y1="593" x2="306.0699944948538" y2="602" stroke="#000" stroke-width="4"/>
<line x1="326.5846261748407" y1="593" x2="326.5846261748407" y2="602" stroke="#000" stroke-width="4"/>
<line x1="341.1399889897076" y1="593" x2="341.1399889897076" y2="602" stroke="#000" stroke-width="4"/>
<line x1="352.4300055051462" y1="593" x2="352.4300055051462" y2="602" stroke="#000" stroke-width="4"/>
<line x1="361.6546206696945" y1="593" x2="361.6546206696945" y2="602" stroke="#000" stroke-width="4"/>
<line x1="369.45392166166096" y1="593" x2="369.45392166166096" y2="602" stroke="#000" stroke-width="4"/>
<line x1="376.20998348456146" y1="593" x2="376.20998348456146" y2="602" stroke="#000" stroke-width="4"/>
<line x1="382.16925234968136" y1="593" x2="382.16925234968136" y2="602" stroke="#000" stroke-width="4"/>
<line x1="387.5" y1="593" x2="387.5" y2="611" stroke="#000" stroke-width="5"/>
<line x1="422.5699944948538" y1="593" x2="422.5699944948538" y2="602" stroke="#000" stroke-width="4"/>
<line x1="443.0846261748407" y1="593" x2="443.0846261748407" y2="602" stroke="#000" stroke-width="4"/>
<line x1="457.6399889897076" y1="593" x2="457.6399889897076" y2="602" stroke="#000" stroke-width="4"/>
<line x1="468.9300055051462" y1="593" x2="468.9300055051462" y2="602" stroke="#000" stroke-width="4"/>
<line x1="478.1546206696945" y1="593" x2="478.1546206696945" y2="602" stroke="#000" stroke-width="4"/>
<line x1="485.95392166166096" y1="593" x2="485.95392166166096" y2="602" stroke="#000" stroke-width="4"/>
<line x1="492.70998348456146" y1="593" x2="492.70998348456146" y2="602" stroke="#000" stroke-width="4"/>
<line x1="498.66925234968136" y1="593" x2="498.66925234968136" y2="602" stroke="#000" stroke-width="4"/>
</g>
<text x="115.4" y="600.8" font-size="13.8" font-family="Liberation Sans, sans-serif">Iso</text>
<text x="115.4" y="614.6" font-size="13.8" font-family="Liberation Sans, sans-serif">Iso</text>
<text x="121" y="626.4" font-size="13" font-family="Liberation Sans, sans-serif">1<tspan font-size="8.5" dx="-1.4" dy="-3.6">0</tspan></text>
<text x="121" y="640" font-size="13" font-family="Liberation Sans, sans-serif">1<tspan font-size="8.5" dx="-1.4" dy="-3.6">0</tspan></text>
<g transform="translate(135,505) scale(0.230769)">
<polyline points="20,352 110,349 130,341 147,333 152,313 157,298 165,296 170,283 175,268 180,254 185,238 192,218 200,199 205,173 208,153 210,138 213,122 215,102 218,92 223,87 228,61 233,41 238,51 243,71 248,82 254,112 256,133 261,148 266,153 271,168 277,184 282,194 287,204 291,224 294,240 297,245 320,280 340,320 350,345 360,350 380,352 500,352" fill="none" stroke="#000" stroke-width="8" stroke-linejoin="round"/>
<polyline points="20,430 100,430 135,428 152,408 168,373 182,338 192,288 205,238 210,178 215,153 218,138 222,128 227,122 232,125 237,128 241,135 245,148 250,158 254,173 259,184 264,199 269,214 274,224 279,240 284,255 289,270 310,320 330,360 345,385 355,410 365,420 380,428 500,430" fill="none" stroke="#7a7a7a" stroke-width="8" stroke-linejoin="round"/>
<polygon points="20,512 20,512 200,510 220,505 235,500 245,490 255,470 262,450 268,430 276,412 282,370 288,330 293,290 298,250 302,230 307,210 312,205 318,200 323,210 328,225 333,240 338,255 344,282 346,325 347,368 355,390 368,412 374,433 387,455 417,477 450,493 493,498 500,505 500,512 500,512" fill="#000"/>
<line x1="20" y1="512" x2="500" y2="512" stroke="#000" stroke-width="7"/>
<polygon points="20,590 20,590 210,588 225,586 238,585 244,563 251,542 262,520 268,500 275,470 280,450 289,412 294,370 298,330 301,300 305,275 312,268 318,270 324,278 327,282 331,325 334,368 343,390 352,412 360,433 366,455 368,477 374,498 385,520 401,542 422,563 450,585 460,590 500,590 500,590" fill="#cecece"/>
<line x1="20" y1="590" x2="500" y2="590" stroke="#cecece" stroke-width="5"/>
<line x1="20" y1="22" x2="20" y2="597" stroke="#000" stroke-width="8"/>
<line x1="6" y1="25" x2="20" y2="25" stroke="#000" stroke-width="6"/>
<line x1="16" y1="593" x2="500" y2="593" stroke="#000" stroke-width="8"/>
<line x1="6" y1="25" x2="20" y2="25" stroke="#000" stroke-width="5"/>
<line x1="13" y1="45.0" x2="20" y2="45.0" stroke="#000" stroke-width="4"/>
<line x1="13" y1="68.0" x2="20" y2="68.0" stroke="#000" stroke-width="4"/>
<line x1="13" y1="91.0" x2="20" y2="91.0" stroke="#000" stroke-width="4"/>
<line x1="13" y1="114.0" x2="20" y2="114.0" stroke="#000" stroke-width="4"/>
<line x1="6" y1="140" x2="20" y2="140" stroke="#000" stroke-width="5"/>
<line x1="13" y1="160.0" x2="20" y2="160.0" stroke="#000" stroke-width="4"/>
<line x1="13" y1="183.0" x2="20" y2="183.0" stroke="#000" stroke-width="4"/>
<line x1="13" y1="206.0" x2="20" y2="206.0" stroke="#000" stroke-width="4"/>
<line x1="13" y1="229.0" x2="20" y2="229.0" stroke="#000" stroke-width="4"/>
<line x1="6" y1="255" x2="20" y2="255" stroke="#000" stroke-width="5"/>
<line x1="13" y1="275.0" x2="20" y2="275.0" stroke="#000" stroke-width="4"/>
<line x1="13" y1="298.0" x2="20" y2="298.0" stroke="#000" stroke-width="4"/>
<line x1="13" y1="321.0" x2="20" y2="321.0" stroke="#000" stroke-width="4"/>
<line x1="13" y1="344.0" x2="20" y2="344.0" stroke="#000" stroke-width="4"/>
<line x1="6" y1="370" x2="20" y2="370" stroke="#000" stroke-width="5"/>
<line x1="13" y1="390.0" x2="20" y2="390.0" stroke="#000" stroke-width="4"/>
<line x1="13" y1="413.0" x2="20" y2="413.0" stroke="#000" stroke-width="4"/>
<line x1="13" y1="436.0" x2="20" y2="436.0" stroke="#000" stroke-width="4"/>
<line x1="13" y1="459.0" x2="20" y2="459.0" stroke="#000" stroke-width="4"/>
<line x1="6" y1="485" x2="20" y2="485" stroke="#000" stroke-width="5"/>
<line x1="13" y1="505.0" x2="20" y2="505.0" stroke="#000" stroke-width="4"/>
<line x1="13" y1="528.0" x2="20" y2="528.0" stroke="#000" stroke-width="4"/>
<line x1="13" y1="551.0" x2="20" y2="551.0" stroke="#000" stroke-width="4"/>
<line x1="13" y1="574.0" x2="20" y2="574.0" stroke="#000" stroke-width="4"/>
<line x1="20.0" y1="593" x2="20.0" y2="611" stroke="#000" stroke-width="5"/>
<line x1="55.06999449485381" y1="593" x2="55.06999449485381" y2="602" stroke="#000" stroke-width="4"/>
<line x1="75.58462617484068" y1="593" x2="75.58462617484068" y2="602" stroke="#000" stroke-width="4"/>
<line x1="90.13998898970762" y1="593" x2="90.13998898970762" y2="602" stroke="#000" stroke-width="4"/>
<line x1="101.4300055051462" y1="593" x2="101.4300055051462" y2="602" stroke="#000" stroke-width="4"/>
<line x1="110.65462066969448" y1="593" x2="110.65462066969448" y2="602" stroke="#000" stroke-width="4"/>
<line x1="118.45392166166091" y1="593" x2="118.45392166166091" y2="602" stroke="#000" stroke-width="4"/>
<line x1="125.20998348456142" y1="593" x2="125.20998348456142" y2="602" stroke="#000" stroke-width="4"/>
<line x1="131.16925234968136" y1="593" x2="131.16925234968136" y2="602" stroke="#000" stroke-width="4"/>
<line x1="136.5" y1="593" x2="136.5" y2="611" stroke="#000" stroke-width="5"/>
<line x1="171.5699944948538" y1="593" x2="171.5699944948538" y2="602" stroke="#000" stroke-width="4"/>
<line x1="192.08462617484068" y1="593" x2="192.08462617484068" y2="602" stroke="#000" stroke-width="4"/>
<line x1="206.63998898970763" y1="593" x2="206.63998898970763" y2="602" stroke="#000" stroke-width="4"/>
<line x1="217.9300055051462" y1="593" x2="217.9300055051462" y2="602" stroke="#000" stroke-width="4"/>
<line x1="227.15462066969448" y1="593" x2="227.15462066969448" y2="602" stroke="#000" stroke-width="4"/>
<line x1="234.95392166166093" y1="593" x2="234.95392166166093" y2="602" stroke="#000" stroke-width="4"/>
<line x1="241.70998348456143" y1="593" x2="241.70998348456143" y2="602" stroke="#000" stroke-width="4"/>
<line x1="247.66925234968133" y1="593" x2="247.66925234968133" y2="602" stroke="#000" stroke-width="4"/>
<line x1="253.0" y1="593" x2="253.0" y2="611" stroke="#000" stroke-width="5"/>
<line x1="288.0699944948538" y1="593" x2="288.0699944948538" y2="602" stroke="#000" stroke-width="4"/>
<line x1="308.5846261748407" y1="593" x2="308.5846261748407" y2="602" stroke="#000" stroke-width="4"/>
<line x1="323.1399889897076" y1="593" x2="323.1399889897076" y2="602" stroke="#000" stroke-width="4"/>
<line x1="334.4300055051462" y1="593" x2="334.4300055051462" y2="602" stroke="#000" stroke-width="4"/>
<line x1="343.6546206696945" y1="593" x2="343.6546206696945" y2="602" stroke="#000" stroke-width="4"/>
<line x1="351.45392166166096" y1="593" x2="351.45392166166096" y2="602" stroke="#000" stroke-width="4"/>
<line x1="358.20998348456146" y1="593" x2="358.20998348456146" y2="602" stroke="#000" stroke-width="4"/>
<line x1="364.16925234968136" y1="593" x2="364.16925234968136" y2="602" stroke="#000" stroke-width="4"/>
<line x1="369.5" y1="593" x2="369.5" y2="611" stroke="#000" stroke-width="5"/>
<line x1="404.5699944948538" y1="593" x2="404.5699944948538" y2="602" stroke="#000" stroke-width="4"/>
<line x1="425.0846261748407" y1="593" x2="425.0846261748407" y2="602" stroke="#000" stroke-width="4"/>
<line x1="439.6399889897076" y1="593" x2="439.6399889897076" y2="602" stroke="#000" stroke-width="4"/>
<line x1="450.9300055051462" y1="593" x2="450.9300055051462" y2="602" stroke="#000" stroke-width="4"/>
<line x1="460.1546206696945" y1="593" x2="460.1546206696945" y2="602" stroke="#000" stroke-width="4"/>
<line x1="467.95392166166096" y1="593" x2="467.95392166166096" y2="602" stroke="#000" stroke-width="4"/>
<line x1="474.70998348456146" y1="593" x2="474.70998348456146" y2="602" stroke="#000" stroke-width="4"/>
<line x1="480.66925234968136" y1="593" x2="480.66925234968136" y2="602" stroke="#000" stroke-width="4"/>
<line x1="486.0" y1="593" x2="486.0" y2="611" stroke="#000" stroke-width="5"/>
</g>
<text x="232.9" y="585.6" font-size="13.8" font-family="Liberation Sans, sans-serif">Iso</text>
<text x="232.9" y="604.2" font-size="13.8" font-family="Liberation Sans, sans-serif">Iso</text>
<text x="244.5" y="622" font-size="13" font-family="Liberation Sans, sans-serif">1<tspan font-size="8.5" dx="-1.4" dy="-3.6">0</tspan></text>
<text x="244.5" y="640.6" font-size="13" font-family="Liberation Sans, sans-serif">1<tspan font-size="8.5" dx="-1.4" dy="-3.6">0</tspan></text>
<g transform="translate(250,505) scale(0.230769)">
<polyline points="68,412 160,410 170,380 178,320 185,250 190,180 193,130 197,100 200,90 203,120 206,95 210,60 213,45 216,80 220,130 225,200 230,260 235,320 240,370 245,390 255,405 270,410 300,410 320,408 340,410 365,405 380,410 400,408 420,410 440,412 541,412" fill="none" stroke="#000" stroke-width="8" stroke-linejoin="round"/>
<polyline points="68,470 150,468 160,450 165,420 170,360 175,280 180,200 183,150 187,110 190,100 195,115 200,130 205,180 210,250 215,330 220,400 225,440 232,460 245,468 260,470 541,470" fill="none" stroke="#7a7a7a" stroke-width="8" stroke-linejoin="round"/>
<polygon points="68,530 68,530 250,528 262,515 268,490 275,470 285,460 295,455 305,460 315,462 325,465 335,480 345,500 355,515 370,520 385,518 400,522 412,525 418,510 425,480 432,450 440,410 448,360 455,320 462,290 470,250 476,200 482,160 487,140 497,141 502,182 507,243 512,315 517,386 523,446 528,488 533,519 537,530 541,530 541,530" fill="#000"/>
<line x1="68" y1="530" x2="541" y2="530" stroke="#000" stroke-width="7"/>
<polygon points="68,590 68,590 230,590 245,575 260,565 275,555 290,545 300,530 305,520 310,530 315,550 325,555 340,560 350,570 365,575 380,580 400,575 415,565 425,540 435,500 445,450 455,400 465,350 475,300 482,260 488,240 497,217 505,225 512,284 517,330 523,386 528,468 533,549 541,589 541,590" fill="#cecece"/>
<line x1="68" y1="590" x2="541" y2="590" stroke="#cecece" stroke-width="5"/>
<line x1="68" y1="15" x2="68" y2="597" stroke="#000" stroke-width="8"/>
<line x1="54" y1="18" x2="68" y2="18" stroke="#000" stroke-width="6"/>
<line x1="64" y1="593" x2="541" y2="593" stroke="#000" stroke-width="8"/>
<line x1="54" y1="18" x2="68" y2="18" stroke="#000" stroke-width="5"/>
<line x1="61" y1="38.0" x2="68" y2="38.0" stroke="#000" stroke-width="4"/>
<line x1="61" y1="61.0" x2="68" y2="61.0" stroke="#000" stroke-width="4"/>
<line x1="61" y1="84.0" x2="68" y2="84.0" stroke="#000" stroke-width="4"/>
<line x1="61" y1="107.0" x2="68" y2="107.0" stroke="#000" stroke-width="4"/>
<line x1="54" y1="133" x2="68" y2="133" stroke="#000" stroke-width="5"/>
<line x1="61" y1="153.0" x2="68" y2="153.0" stroke="#000" stroke-width="4"/>
<line x1="61" y1="176.0" x2="68" y2="176.0" stroke="#000" stroke-width="4"/>
<line x1="61" y1="199.0" x2="68" y2="199.0" stroke="#000" stroke-width="4"/>
<line x1="61" y1="222.0" x2="68" y2="222.0" stroke="#000" stroke-width="4"/>
<line x1="54" y1="248" x2="68" y2="248" stroke="#000" stroke-width="5"/>
<line x1="61" y1="268.0" x2="68" y2="268.0" stroke="#000" stroke-width="4"/>
<line x1="61" y1="291.0" x2="68" y2="291.0" stroke="#000" stroke-width="4"/>
<line x1="61" y1="314.0" x2="68" y2="314.0" stroke="#000" stroke-width="4"/>
<line x1="61" y1="337.0" x2="68" y2="337.0" stroke="#000" stroke-width="4"/>
<line x1="54" y1="363" x2="68" y2="363" stroke="#000" stroke-width="5"/>
<line x1="61" y1="383.0" x2="68" y2="383.0" stroke="#000" stroke-width="4"/>
<line x1="61" y1="406.0" x2="68" y2="406.0" stroke="#000" stroke-width="4"/>
<line x1="61" y1="429.0" x2="68" y2="429.0" stroke="#000" stroke-width="4"/>
<line x1="61" y1="452.0" x2="68" y2="452.0" stroke="#000" stroke-width="4"/>
<line x1="54" y1="478" x2="68" y2="478" stroke="#000" stroke-width="5"/>
<line x1="61" y1="498.0" x2="68" y2="498.0" stroke="#000" stroke-width="4"/>
<line x1="61" y1="521.0" x2="68" y2="521.0" stroke="#000" stroke-width="4"/>
<line x1="61" y1="544.0" x2="68" y2="544.0" stroke="#000" stroke-width="4"/>
<line x1="61" y1="567.0" x2="68" y2="567.0" stroke="#000" stroke-width="4"/>
<line x1="68.0" y1="593" x2="68.0" y2="611" stroke="#000" stroke-width="5"/>
<line x1="103.0699944948538" y1="593" x2="103.0699944948538" y2="602" stroke="#000" stroke-width="4"/>
<line x1="123.58462617484068" y1="593" x2="123.58462617484068" y2="602" stroke="#000" stroke-width="4"/>
<line x1="138.1399889897076" y1="593" x2="138.1399889897076" y2="602" stroke="#000" stroke-width="4"/>
<line x1="149.4300055051462" y1="593" x2="149.4300055051462" y2="602" stroke="#000" stroke-width="4"/>
<line x1="158.65462066969448" y1="593" x2="158.65462066969448" y2="602" stroke="#000" stroke-width="4"/>
<line x1="166.4539216616609" y1="593" x2="166.4539216616609" y2="602" stroke="#000" stroke-width="4"/>
<line x1="173.2099834845614" y1="593" x2="173.2099834845614" y2="602" stroke="#000" stroke-width="4"/>
<line x1="179.16925234968136" y1="593" x2="179.16925234968136" y2="602" stroke="#000" stroke-width="4"/>
<line x1="184.5" y1="593" x2="184.5" y2="611" stroke="#000" stroke-width="5"/>
<line x1="219.5699944948538" y1="593" x2="219.5699944948538" y2="602" stroke="#000" stroke-width="4"/>
<line x1="240.08462617484068" y1="593" x2="240.08462617484068" y2="602" stroke="#000" stroke-width="4"/>
<line x1="254.63998898970763" y1="593" x2="254.63998898970763" y2="602" stroke="#000" stroke-width="4"/>
<line x1="265.9300055051462" y1="593" x2="265.9300055051462" y2="602" stroke="#000" stroke-width="4"/>
<line x1="275.1546206696945" y1="593" x2="275.1546206696945" y2="602" stroke="#000" stroke-width="4"/>
<line x1="282.95392166166096" y1="593" x2="282.95392166166096" y2="602" stroke="#000" stroke-width="4"/>
<line x1="289.70998348456146" y1="593" x2="289.70998348456146" y2="602" stroke="#000" stroke-width="4"/>
<line x1="295.6692523496813" y1="593" x2="295.6692523496813" y2="602" stroke="#000" stroke-width="4"/>
<line x1="301.0" y1="593" x2="301.0" y2="611" stroke="#000" stroke-width="5"/>
<line x1="336.0699944948538" y1="593" x2="336.0699944948538" y2="602" stroke="#000" stroke-width="4"/>
<line x1="356.5846261748407" y1="593" x2="356.5846261748407" y2="602" stroke="#000" stroke-width="4"/>
<line x1="371.1399889897076" y1="593" x2="371.1399889897076" y2="602" stroke="#000" stroke-width="4"/>
<line x1="382.4300055051462" y1="593" x2="382.4300055051462" y2="602" stroke="#000" stroke-width="4"/>
<line x1="391.6546206696945" y1="593" x2="391.6546206696945" y2="602" stroke="#000" stroke-width="4"/>
<line x1="399.45392166166096" y1="593" x2="399.45392166166096" y2="602" stroke="#000" stroke-width="4"/>
<line x1="406.20998348456146" y1="593" x2="406.20998348456146" y2="602" stroke="#000" stroke-width="4"/>
<line x1="412.16925234968136" y1="593" x2="412.16925234968136" y2="602" stroke="#000" stroke-width="4"/>
<line x1="417.5" y1="593" x2="417.5" y2="611" stroke="#000" stroke-width="5"/>
<line x1="452.5699944948538" y1="593" x2="452.5699944948538" y2="602" stroke="#000" stroke-width="4"/>
<line x1="473.0846261748407" y1="593" x2="473.0846261748407" y2="602" stroke="#000" stroke-width="4"/>
<line x1="487.6399889897076" y1="593" x2="487.6399889897076" y2="602" stroke="#000" stroke-width="4"/>
<line x1="498.9300055051462" y1="593" x2="498.9300055051462" y2="602" stroke="#000" stroke-width="4"/>
<line x1="508.1546206696945" y1="593" x2="508.1546206696945" y2="602" stroke="#000" stroke-width="4"/>
<line x1="515.953921661661" y1="593" x2="515.953921661661" y2="602" stroke="#000" stroke-width="4"/>
<line x1="522.7099834845615" y1="593" x2="522.7099834845615" y2="602" stroke="#000" stroke-width="4"/>
<line x1="528.6692523496813" y1="593" x2="528.6692523496813" y2="602" stroke="#000" stroke-width="4"/>
<line x1="534.0" y1="593" x2="534.0" y2="611" stroke="#000" stroke-width="5"/>
</g>
<text x="266" y="600.5" font-size="13.8" font-family="Liberation Sans, sans-serif">Iso</text>
<text x="266" y="613.5" font-size="13.8" font-family="Liberation Sans, sans-serif">Iso</text>
<text x="268.5" y="625" font-size="13" font-family="Liberation Sans, sans-serif">1<tspan font-size="8.5" dx="-1.4" dy="-3.6">0</tspan></text>
<text x="268.5" y="638.9" font-size="13" font-family="Liberation Sans, sans-serif">1<tspan font-size="8.5" dx="-1.4" dy="-3.6">0</tspan></text>
<g transform="translate(368,505) scale(0.230769)">
<polyline points="72,350 180,350 193,342 217,334 231,321 240,301 252,280 258,238 265,191 272,153 278,115 282,76 286,45 290,23 295,50 300,72 307,115 318,153 326,172 330,191 338,218 342,240 360,280 380,310 390,330 400,335 420,340 440,343 460,345 480,348 500,348 510,340 520,335 528,330" fill="none" stroke="#000" stroke-width="8" stroke-linejoin="round"/>
<polyline points="72,428 180,425 184,422 192,413 200,405 225,396 238,384 250,380 256,363 263,321 269,280 277,238 286,191 293,153 297,115 299,69 301,115 313,153 322,191 334,230 360,300 400,370 420,400 440,420 460,425 480,428 500,428 515,420 528,420" fill="none" stroke="#7a7a7a" stroke-width="8" stroke-linejoin="round"/>
<polygon points="72,508 72,508 270,508 280,500 290,480 298,450 305,410 310,380 315,370 320,340 325,300 330,270 335,250 340,240 345,225 350,200 355,180 360,190 363,220 367,250 372,270 378,300 383,330 390,347 400,360 411,368 418,372 425,395 433,388 440,392 444,412 450,433 468,455 485,468 500,474 524,477 528,433 528,508 528,508" fill="#000"/>
<line x1="72" y1="508" x2="528.6" y2="508" stroke="#000" stroke-width="7"/>
<polygon points="72,595 72,595 240,595 260,590 280,575 295,560 305,540 315,510 325,440 335,360 345,300 355,275 362,270 370,280 378,300 386,325 390,347 400,360 412,368 416,390 418,412 427,433 438,455 446,477 451,498 464,520 477,542 494,563 511,585 520,560 528,520 528,595 528,595" fill="#cecece"/>
<line x1="72" y1="595" x2="528.6" y2="595" stroke="#cecece" stroke-width="5"/>
<line x1="72" y1="5" x2="72" y2="602" stroke="#000" stroke-width="8"/>
<line x1="58" y1="8" x2="72" y2="8" stroke="#000" stroke-width="6"/>
<line x1="68" y1="598" x2="528.6" y2="598" stroke="#000" stroke-width="8"/>
<line x1="58" y1="8" x2="72" y2="8" stroke="#000" stroke-width="5"/>
<line x1="65" y1="28.0" x2="72" y2="28.0" stroke="#000" stroke-width="4"/>
<line x1="65" y1="51.0" x2="72" y2="51.0" stroke="#000" stroke-width="4"/>
<line x1="65" y1="74.0" x2="72" y2="74.0" stroke="#000" stroke-width="4"/>
<line x1="65" y1="97.0" x2="72" y2="97.0" stroke="#000" stroke-width="4"/>
<line x1="58" y1="123" x2="72" y2="123" stroke="#000" stroke-width="5"/>
<line x1="65" y1="143.0" x2="72" y2="143.0" stroke="#000" stroke-width="4"/>
<line x1="65" y1="166.0" x2="72" y2="166.0" stroke="#000" stroke-width="4"/>
<line x1="65" y1="189.0" x2="72" y2="189.0" stroke="#000" stroke-width="4"/>
<line x1="65" y1="212.0" x2="72" y2="212.0" stroke="#000" stroke-width="4"/>
<line x1="58" y1="238" x2="72" y2="238" stroke="#000" stroke-width="5"/>
<line x1="65" y1="258.0" x2="72" y2="258.0" stroke="#000" stroke-width="4"/>
<line x1="65" y1="281.0" x2="72" y2="281.0" stroke="#000" stroke-width="4"/>
<line x1="65" y1="304.0" x2="72" y2="304.0" stroke="#000" stroke-width="4"/>
<line x1="65" y1="327.0" x2="72" y2="327.0" stroke="#000" stroke-width="4"/>
<line x1="58" y1="353" x2="72" y2="353" stroke="#000" stroke-width="5"/>
<line x1="65" y1="373.0" x2="72" y2="373.0" stroke="#000" stroke-width="4"/>
<line x1="65" y1="396.0" x2="72" y2="396.0" stroke="#000" stroke-width="4"/>
<line x1="65" y1="419.0" x2="72" y2="419.0" stroke="#000" stroke-width="4"/>
<line x1="65" y1="442.0" x2="72" y2="442.0" stroke="#000" stroke-width="4"/>
<line x1="58" y1="468" x2="72" y2="468" stroke="#000" stroke-width="5"/>
<line x1="65" y1="488.0" x2="72" y2="488.0" stroke="#000" stroke-width="4"/>
<line x1="65" y1="511.0" x2="72" y2="511.0" stroke="#000" stroke-width="4"/>
<line x1="65" y1="534.0" x2="72" y2="534.0" stroke="#000" stroke-width="4"/>
<line x1="65" y1="557.0" x2="72" y2="557.0" stroke="#000" stroke-width="4"/>
<line x1="58" y1="583" x2="72" y2="583" stroke="#000" stroke-width="5"/>
<line x1="72.0" y1="598" x2="72.0" y2="616" stroke="#000" stroke-width="5"/>
<line x1="107.0699944948538" y1="598" x2="107.0699944948538" y2="607" stroke="#000" stroke-width="4"/>
<line x1="127.58462617484068" y1="598" x2="127.58462617484068" y2="607" stroke="#000" stroke-width="4"/>
<line x1="142.1399889897076" y1="598" x2="142.1399889897076" y2="607" stroke="#000" stroke-width="4"/>
<line x1="153.4300055051462" y1="598" x2="153.4300055051462" y2="607" stroke="#000" stroke-width="4"/>
<line x1="162.65462066969448" y1="598" x2="162.65462066969448" y2="607" stroke="#000" stroke-width="4"/>
<line x1="170.4539216616609" y1="598" x2="170.4539216616609" y2="607" stroke="#000" stroke-width="4"/>
<line x1="177.2099834845614" y1="598" x2="177.2099834845614" y2="607" stroke="#000" stroke-width="4"/>
<line x1="183.16925234968136" y1="598" x2="183.16925234968136" y2="607" stroke="#000" stroke-width="4"/>
<line x1="188.5" y1="598" x2="188.5" y2="616" stroke="#000" stroke-width="5"/>
<line x1="223.5699944948538" y1="598" x2="223.5699944948538" y2="607" stroke="#000" stroke-width="4"/>
<line x1="244.08462617484068" y1="598" x2="244.08462617484068" y2="607" stroke="#000" stroke-width="4"/>
<line x1="258.6399889897076" y1="598" x2="258.6399889897076" y2="607" stroke="#000" stroke-width="4"/>
<line x1="269.9300055051462" y1="598" x2="269.9300055051462" y2="607" stroke="#000" stroke-width="4"/>
<line x1="279.1546206696945" y1="598" x2="279.1546206696945" y2="607" stroke="#000" stroke-width="4"/>
<line x1="286.95392166166096" y1="598" x2="286.95392166166096" y2="607" stroke="#000" stroke-width="4"/>
<line x1="293.70998348456146" y1="598" x2="293.70998348456146" y2="607" stroke="#000" stroke-width="4"/>
<line x1="299.6692523496813" y1="598" x2="299.6692523496813" y2="607" stroke="#000" stroke-width="4"/>
<line x1="305.0" y1="598" x2="305.0" y2="616" stroke="#000" stroke-width="5"/>
<line x1="340.0699944948538" y1="598" x2="340.0699944948538" y2="607" stroke="#000" stroke-width="4"/>
<line x1="360.5846261748407" y1="598" x2="360.5846261748407" y2="607" stroke="#000" stroke-width="4"/>
<line x1="375.1399889897076" y1="598" x2="375.1399889897076" y2="607" stroke="#000" stroke-width="4"/>
<line x1="386.4300055051462" y1="598" x2="386.4300055051462" y2="607" stroke="#000" stroke-width="4"/>
<line x1="395.6546206696945" y1="598" x2="395.6546206696945" y2="607" stroke="#000" stroke-width="4"/>
<line x1="403.45392166166096" y1="598" x2="403.45392166166096" y2="607" stroke="#000" stroke-width="4"/>
<line x1="410.20998348456146" y1="598" x2="410.20998348456146" y2="607" stroke="#000" stroke-width="4"/>
<line x1="416.16925234968136" y1="598" x2="416.16925234968136" y2="607" stroke="#000" stroke-width="4"/>
<line x1="421.5" y1="598" x2="421.5" y2="616" stroke="#000" stroke-width="5"/>
<line x1="456.5699944948538" y1="598" x2="456.5699944948538" y2="607" stroke="#000" stroke-width="4"/>
<line x1="477.0846261748407" y1="598" x2="477.0846261748407" y2="607" stroke="#000" stroke-width="4"/>
<line x1="491.6399889897076" y1="598" x2="491.6399889897076" y2="607" stroke="#000" stroke-width="4"/>
<line x1="502.9300055051462" y1="598" x2="502.9300055051462" y2="607" stroke="#000" stroke-width="4"/>
<line x1="512.1546206696945" y1="598" x2="512.1546206696945" y2="607" stroke="#000" stroke-width="4"/>
<line x1="519.953921661661" y1="598" x2="519.953921661661" y2="607" stroke="#000" stroke-width="4"/>
<line x1="526.7099834845615" y1="598" x2="526.7099834845615" y2="607" stroke="#000" stroke-width="4"/>
</g>
<text x="388.8" y="584.6" font-size="13.8" font-family="Liberation Sans, sans-serif">Iso</text>
<text x="388.8" y="603" font-size="13.8" font-family="Liberation Sans, sans-serif">Iso</text>
<text x="393.2" y="621" font-size="13" font-family="Liberation Sans, sans-serif">1<tspan font-size="8.5" dx="-1.4" dy="-3.6">0</tspan></text>
<text x="393.2" y="640" font-size="13" font-family="Liberation Sans, sans-serif">1<tspan font-size="8.5" dx="-1.4" dy="-3.6">0</tspan></text>
<text x="5.1" y="319.4" font-size="24.5" font-weight="bold" font-family="Liberation Sans, sans-serif">B</text>
<text x="-0.6" y="507.5" font-size="24.5" font-weight="bold" font-family="Liberation Sans, sans-serif">C</text>
<text x="21" y="347.8" font-size="18" font-weight="bold" font-family="Liberation Sans, sans-serif">CD36</text>
<text x="145" y="347.8" font-size="18" font-weight="bold" font-family="Liberation Sans, sans-serif">MMR</text>
<text x="261" y="347.8" font-size="18" font-weight="bold" font-family="Liberation Sans, sans-serif">CD14</text>
<text x="383" y="347.8" font-size="18" font-weight="bold" font-family="Liberation Sans, sans-serif">IL-4R</text>
<text transform="translate(17.2,471) rotate(-90)" font-size="18.7" font-weight="bold" font-family="Liberation Sans, sans-serif">Cell number</text>
<text transform="translate(17.2,641.6) rotate(-90)" font-size="18.7" font-weight="bold" font-family="Liberation Sans, sans-serif">Cell number</text>
<text x="165" y="675.3" font-size="18" font-weight="bold" font-family="Liberation Sans, sans-serif">Log fluorescence Units</text>
<rect x="454.09999999999997" y="352.59999999999997" width="5.3" height="7.7" fill="none" stroke="#000" stroke-width="2.4"/>
<rect x="462.9" y="351.79999999999995" width="6.7" height="9.2" fill="#000"/>
<text x="470.4" y="361.0" font-size="11" font-family="Liberation Sans, sans-serif">WT</text>
<rect x="454.09999999999997" y="365.09999999999997" width="5.3" height="7.7" fill="none" stroke="#7a7a7a" stroke-width="2.4"/>
<rect x="462.9" y="363.9" width="6.7" height="9.5" fill="#cecece"/>
<text x="471.2" y="372.4" font-size="11" font-family="Liberation Sans, sans-serif">CGD</text>
<rect x="456.7" y="513.5" width="5.3" height="7.7" fill="none" stroke="#000" stroke-width="2.4"/>
<rect x="465.5" y="512.6999999999999" width="6.7" height="9.2" fill="#000"/>
<text x="473.0" y="521.9" font-size="11" font-family="Liberation Sans, sans-serif">WT</text>
<rect x="456.7" y="526.0" width="5.3" height="7.7" fill="none" stroke="#7a7a7a" stroke-width="2.4"/>
<rect x="465.5" y="524.8" width="6.7" height="9.5" fill="#cecece"/>
<text x="473.8" y="533.3" font-size="11" font-family="Liberation Sans, sans-serif">CGD</text>
<path d="M498.8,347.5 H503.2 V492.5 H498.8" fill="none" stroke="#000" stroke-width="1.6"/>
<path d="M498.2,502.5 H502.8 V657 H498.2" fill="none" stroke="#000" stroke-width="1.6"/>
<text transform="translate(520.6,453.4) rotate(-90)" font-size="19.2" font-weight="bold" font-family="Liberation Sans, sans-serif">Control</text>
<text transform="translate(520,598.9) rotate(-90)" font-size="19.2" font-weight="bold" font-family="Liberation Sans, sans-serif">+ IL-4</text>
<text x="23.46923076923077" y="657.2" font-size="11.5" text-anchor="middle" font-family="Liberation Sans, sans-serif">1</text>
<text x="51.65384615384616" y="657.2" font-size="11.5" text-anchor="middle" font-family="Liberation Sans, sans-serif">10<tspan font-size="8.5" dy="-4.6">1</tspan></text>
<text x="78.53846153846155" y="657.2" font-size="11.5" text-anchor="middle" font-family="Liberation Sans, sans-serif">10<tspan font-size="8.5" dy="-4.6">2</tspan></text>
<text x="105.42307692307693" y="657.2" font-size="11.5" text-anchor="middle" font-family="Liberation Sans, sans-serif">10<tspan font-size="8.5" dy="-4.6">3</tspan></text>
<text x="139.3153846153846" y="657.2" font-size="11.5" text-anchor="middle" font-family="Liberation Sans, sans-serif">1</text>
<text x="167.5" y="657.2" font-size="11.5" text-anchor="middle" font-family="Liberation Sans, sans-serif">10<tspan font-size="8.5" dy="-4.6">1</tspan></text>
<text x="194.3846153846154" y="657.2" font-size="11.5" text-anchor="middle" font-family="Liberation Sans, sans-serif">10<tspan font-size="8.5" dy="-4.6">2</tspan></text>
<text x="221.26923076923077" y="657.2" font-size="11.5" text-anchor="middle" font-family="Liberation Sans, sans-serif">10<tspan font-size="8.5" dy="-4.6">3</tspan></text>
<text x="265.39230769230767" y="657.2" font-size="11.5" text-anchor="middle" font-family="Liberation Sans, sans-serif">1</text>
<text x="293.5769230769231" y="657.2" font-size="11.5" text-anchor="middle" font-family="Liberation Sans, sans-serif">10<tspan font-size="8.5" dy="-4.6">1</tspan></text>
<text x="320.46153846153845" y="657.2" font-size="11.5" text-anchor="middle" font-family="Liberation Sans, sans-serif">10<tspan font-size="8.5" dy="-4.6">2</tspan></text>
<text x="347.3461538461538" y="657.2" font-size="11.5" text-anchor="middle" font-family="Liberation Sans, sans-serif">10<tspan font-size="8.5" dy="-4.6">3</tspan></text>
<text x="384.31538461538463" y="657.2" font-size="11.5" text-anchor="middle" font-family="Liberation Sans, sans-serif">1</text>
<text x="412.5" y="657.2" font-size="11.5" text-anchor="middle" font-family="Liberation Sans, sans-serif">10<tspan font-size="8.5" dy="-4.6">1</tspan></text>
<text x="439.3846153846154" y="657.2" font-size="11.5" text-anchor="middle" font-family="Liberation Sans, sans-serif">10<tspan font-size="8.5" dy="-4.6">2</tspan></text>
<text x="466.26923076923083" y="657.2" font-size="11.5" text-anchor="middle" font-family="Liberation Sans, sans-serif">10<tspan font-size="8.5" dy="-4.6">3</tspan></text>
</svg>
</body></html>
